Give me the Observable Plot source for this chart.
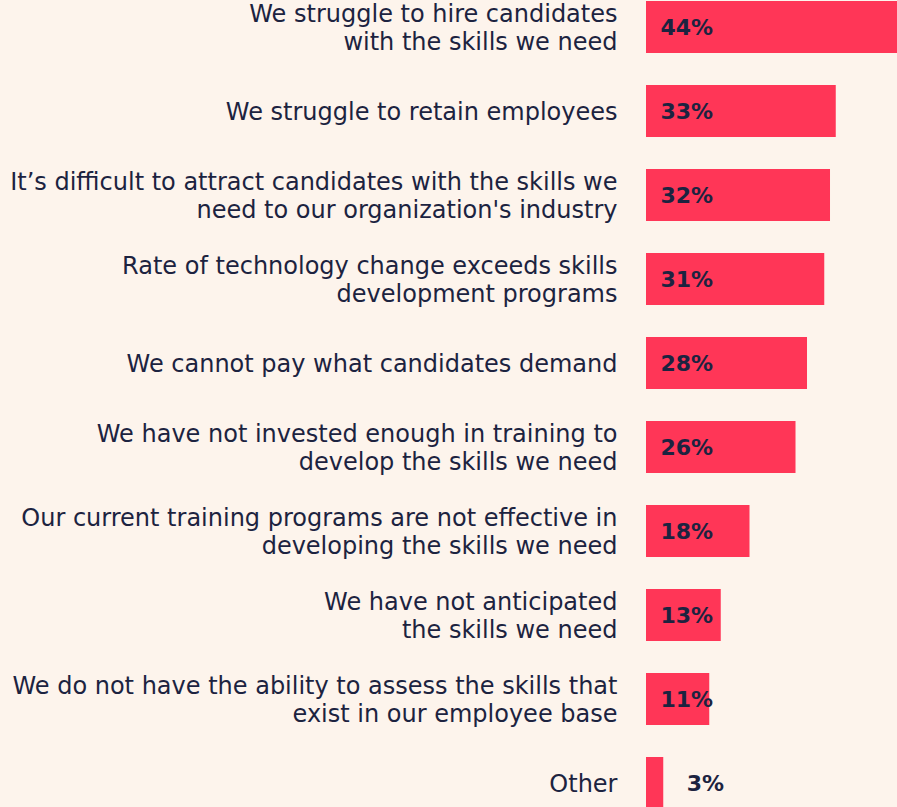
<!DOCTYPE html>
<html>
<head>
<meta charset="utf-8">
<script src="https://cdn.jsdelivr.net/npm/d3@7"></script>
<script src="https://cdn.jsdelivr.net/npm/@observablehq/plot@0.6"></script>
<style>
  html, body { margin: 0; padding: 0; background: #fdf4ec; overflow: hidden; }
  #chart svg { display: block; background: #fdf4ec; }
</style>
</head>
<body>
<div id="chart"></div>
<script>
const categories = [
  "We struggle to hire candidates\nwith the skills we need",
  "We struggle to retain employees",
  "It’s difficult to attract candidates with the skills we\nneed to our organization's industry",
  "Rate of technology change exceeds skills\ndevelopment programs",
  "We cannot pay what candidates demand",
  "We have not invested enough in training to\ndevelop the skills we need",
  "Our current training programs are not effective in\ndeveloping the skills we need",
  "We have not anticipated\nthe skills we need",
  "We do not have the ability to assess the skills that\nexist in our employee base",
  "Other"
];
const values = [44, 33, 32, 31, 28, 26, 18, 13, 11, 3];

const data = categories.map((c, i) => ({category: c, value: values[i]}));
const ink = "#1c2340";
const font = "DejaVu Sans, sans-serif";

const chart = Plot.plot({
  width: 897,
  height: 807,
  marginLeft: 646,
  marginRight: 0,
  marginTop: 0,
  marginBottom: 0,
  style: {background: "#fdf4ec", fontFamily: font, overflow: "hidden"},
  x: {domain: [0, 43.65], range: [646, 897], axis: null},
  y: {domain: categories, range: [1, 809], paddingInner: 0.381, paddingOuter: 0, axis: null},
  marks: [
    Plot.barX(data, {x: "value", y: "category", fill: "#ff3657"}),
    Plot.text(data, {x: 0, y: "category", text: "category", textAnchor: "end", dx: -29,
      fontSize: 24, lineHeight: 1.167, fill: ink, fontFamily: font}),
    Plot.text(data.filter(d => d.value >= 5), {x: 0, y: "category", text: d => d.value + "%",
      textAnchor: "start", dx: 14, fontSize: 22, fontWeight: "bold", fill: ink, fontFamily: font}),
    Plot.text(data.filter(d => d.value < 5), {x: "value", y: "category", text: d => d.value + "%",
      textAnchor: "start", dx: 23, fontSize: 22, fontWeight: "bold", fill: ink, fontFamily: font})
  ]
});
document.getElementById("chart").appendChild(chart);
</script>
</body>
</html>
